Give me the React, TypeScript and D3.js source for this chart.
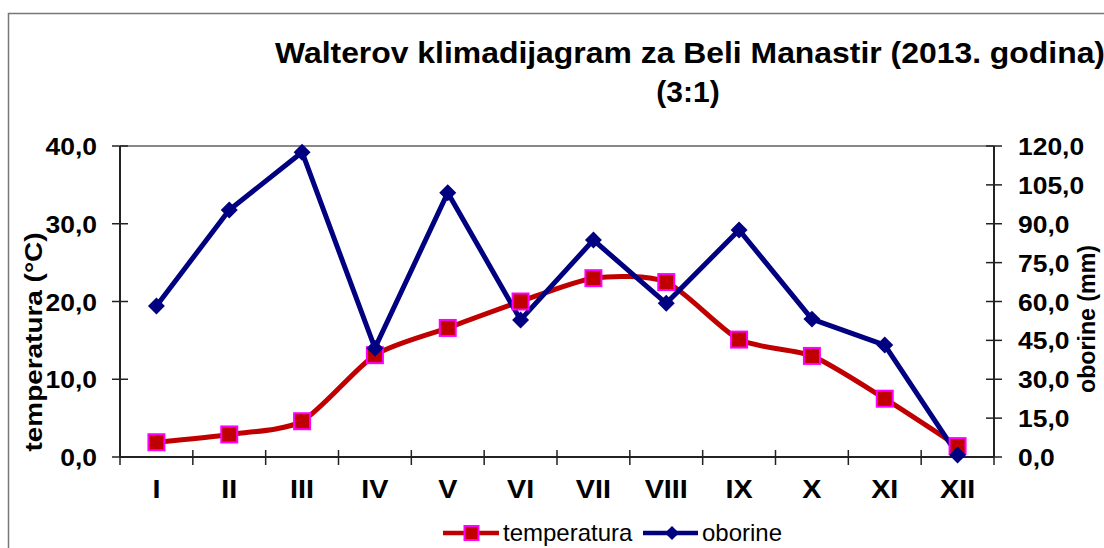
import React from "react";
import * as d3 from "d3";

const months = ["I", "II", "III", "IV", "V", "VI", "VII", "VIII", "IX", "X", "XI", "XII"];
const temperatura = [1.9, 2.9, 4.6, 13.1, 16.6, 20.0, 23.0, 22.5, 15.1, 13.0, 7.5, 1.4];
const oborine = [58.3, 95.3, 117.6, 42.0, 102.0, 52.9, 83.7, 59.3, 87.6, 53.2, 43.2, 0.8];
const leftTicks = [0, 10, 20, 30, 40];
const rightTicks = [0, 15, 30, 45, 60, 75, 90, 105, 120];

const W = 1104;
const H = 548;
const plot = { left: 120, right: 994, top: 146, bottom: 457 };
const FONT = "'Liberation Sans', Arial, sans-serif";
const RED = "#C00000";
const BLUE = "#000080";
const MAG = "#FF00FF";
const SX = 1.15;

export default function App() {
  const x = d3.scaleBand<string>().domain(months).range([plot.left, plot.right]);
  const yL = d3.scaleLinear().domain([0, 40]).range([plot.bottom, plot.top]);
  const yR = d3.scaleLinear().domain([0, 120]).range([plot.bottom, plot.top]);
  const cx = (m: string) => (x(m) as number) + x.bandwidth() / 2;
  const fmt = (v: number) => v.toFixed(1).replace(".", ",");

  const tempLine = d3
    .line<number>()
    .x((_, i) => cx(months[i]))
    .y((d) => yL(d))
    .curve(d3.curveCardinal.tension(0.3));
  const precLine = d3
    .line<number>()
    .x((_, i) => cx(months[i]))
    .y((d) => yR(d));

  const boundaries = d3.range(months.length + 1).map((i) => plot.left + i * x.bandwidth());

  return (
    <svg width={W} height={H} style={{ position: "absolute", left: 0, top: 0, display: "block" }}>
      <rect x={0} y={0} width={W} height={H} fill="#fff" />
      <rect x={8.5} y={13.5} width={1200} height={600} fill="none" stroke="#777" strokeWidth={1.5} />
      <text x={690} y={63} textAnchor="middle" fontFamily={FONT} fontWeight="bold" fontSize={30}
        textLength={830} lengthAdjust="spacingAndGlyphs">
        Walterov klimadijagram za Beli Manastir (2013. godina)
      </text>
      <text x={688} y={102} textAnchor="middle" fontFamily={FONT} fontWeight="bold" fontSize={30}>
        (3:1)
      </text>

      {/* plot frame */}
      <line x1={plot.left} x2={plot.right} y1={plot.top} y2={plot.top} stroke="#888" strokeWidth={2} />
      <line x1={plot.left} x2={plot.left} y1={plot.top} y2={plot.bottom} stroke="#222" strokeWidth={2} />
      <line x1={plot.right} x2={plot.right} y1={plot.top} y2={plot.bottom} stroke="#222" strokeWidth={2} />
      <line x1={plot.left} x2={plot.right} y1={plot.bottom} y2={plot.bottom} stroke="#222" strokeWidth={2} />

      {/* left axis */}
      {leftTicks.map((t) => (
        <g key={"l" + t}>
          <line x1={plot.left - 8} x2={plot.left + 8} y1={yL(t)} y2={yL(t)} stroke="#222" strokeWidth={1.5} />
          <text transform={`translate(${plot.left - 23}, ${yL(t) + 9}) scale(${SX},1)`} textAnchor="end"
            fontFamily={FONT} fontWeight="bold" fontSize={23}>
            {fmt(t)}
          </text>
        </g>
      ))}
      {/* right axis */}
      {rightTicks.map((t) => (
        <g key={"r" + t}>
          <line x1={plot.right - 8} x2={plot.right + 8} y1={yR(t)} y2={yR(t)} stroke="#222" strokeWidth={1.5} />
          <text transform={`translate(${plot.right + 24}, ${yR(t) + 9}) scale(${SX},1)`} textAnchor="start"
            fontFamily={FONT} fontWeight="bold" fontSize={23}>
            {fmt(t)}
          </text>
        </g>
      ))}
      {/* bottom ticks */}
      {boundaries.map((b, i) => (
        <line key={"b" + i} x1={b} x2={b} y1={plot.bottom - 7} y2={plot.bottom + 8} stroke="#222" strokeWidth={1.5} />
      ))}
      {months.map((m) => (
        <text key={m} transform={`translate(${cx(m)}, 498) scale(${SX},1)`} textAnchor="middle"
          fontFamily={FONT} fontWeight="bold" fontSize={25}>
          {m}
        </text>
      ))}

      {/* axis titles */}
      <text transform={`translate(42, 342) rotate(-90)`} textAnchor="middle" fontFamily={FONT}
        fontWeight="bold" fontSize={24} textLength={219} lengthAdjust="spacingAndGlyphs">
        temperatura (°C)
      </text>
      <text transform={`translate(1095, 319) rotate(-90)`} textAnchor="middle" fontFamily={FONT}
        fontWeight="bold" fontSize={24} textLength={148} lengthAdjust="spacingAndGlyphs">
        oborine (mm)
      </text>

      {/* temperature */}
      <path d={tempLine(temperatura) || ""} fill="none" stroke={RED} strokeWidth={5} />
      {/* precipitation */}
      <path d={precLine(oborine) || ""} fill="none" stroke={BLUE} strokeWidth={5} strokeLinejoin="miter" />
      {temperatura.map((v, i) => (
        <rect key={"t" + i} x={cx(months[i]) - 8} y={yL(v) - 8} width={16} height={16} fill={RED} stroke={MAG} strokeWidth={2} />
      ))}
      {oborine.map((v, i) => (
        <rect
          key={"o" + i}
          x={-6}
          y={-6}
          width={12}
          height={12}
          fill={BLUE}
          transform={`translate(${cx(months[i])}, ${yR(v)}) rotate(45)`}
        />
      ))}

      {/* legend */}
      <g>
        <line x1={443} x2={499} y1={533} y2={533} stroke={RED} strokeWidth={4.5} />
        <rect x={464.5} y={526} width={14} height={14} fill={RED} stroke={MAG} strokeWidth={2} />
        <text x={503} y={541} fontFamily={FONT} fontSize={24}>temperatura</text>
        <line x1={643} x2={698} y1={533} y2={533} stroke={BLUE} strokeWidth={4.5} />
        <rect x={-5} y={-5} width={10} height={10} fill={BLUE} transform="translate(672,533) rotate(45)" />
        <text x={702} y={541} fontFamily={FONT} fontSize={24}>oborine</text>
      </g>
    </svg>
  );
}
